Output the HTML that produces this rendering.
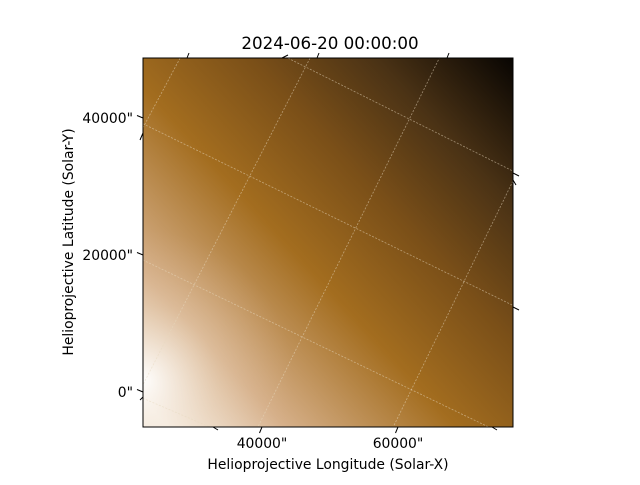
<!DOCTYPE html>
<html><head><meta charset="utf-8"><style>
body{margin:0;background:#fff;}
svg text{font-family:"DejaVu Sans","Liberation Sans",sans-serif;}
</style></head><body>
<svg id="chart" width="640" height="480" viewBox="0 0 640 480">
<defs>
<linearGradient id="lg" gradientUnits="userSpaceOnUse" x1="143" y1="400" x2="513" y2="58">
<stop offset="0" stop-color="#fdf9f4"/>
<stop offset="0.17" stop-color="#d6b08a"/>
<stop offset="0.42" stop-color="#a36d1f"/>
<stop offset="0.62" stop-color="#7a4f18"/>
<stop offset="0.8" stop-color="#4a3215"/>
<stop offset="1" stop-color="#080502"/>
</linearGradient>
<radialGradient id="rg" gradientUnits="userSpaceOnUse" cx="143" cy="380" r="150">
<stop offset="0" stop-color="#ffffff" stop-opacity="0.9"/>
<stop offset="0.5" stop-color="#e8d2b8" stop-opacity="0.35"/>
<stop offset="1" stop-color="#d6b08a" stop-opacity="0"/>
</radialGradient>
<clipPath id="cp"><rect x="143" y="58" width="370" height="369"/></clipPath>
</defs>
<text x="330" y="49" font-size="16.7" text-anchor="middle">2024-06-20 00:00:00</text>
<g clip-path="url(#cp)">
<rect x="143" y="58" width="370" height="369" fill="url(#lg)"/>
<rect x="143" y="58" width="370" height="369" fill="url(#rg)"/>
<g id="grid"></g>
</g>
<rect x="143" y="58" width="370" height="369" fill="none" stroke="#000" stroke-width="1"/>
<g id="ticks"></g>
<text x="328" y="469" font-size="13.9" text-anchor="middle">Helioprojective Longitude (Solar-X)</text>
<text x="73" y="242" font-size="13.9" text-anchor="middle" transform="rotate(-90 73 242)">Helioprojective Latitude (Solar-Y)</text>
</svg>
<script>
const xTickVals=[40000,60000];
const xTickLabels=['40000"','60000"'];
const yTickVals=[0,20000,40000];
const yTickLabels=['0"','20000"','40000"'];
// grid lines in data coords [x1,y1,x2,y2]
const lonLines=[[28200,49200,21700,37100],[47300,49200,21700,-500],[66400,49400,39400,-5100],[76900,30800,59300,-5100]];
const latLines=[[42900,49200,77400,32000],[22000,39400,77400,12400],[22000,19500,73300,-5100],[22000,-700,32300,-5100]];
function X(v){return 262+(v-40000)*136/20000;}
function Y(v){return 392-v*137/20000;}
const NS='http://www.w3.org/2000/svg';
const grid=document.getElementById('grid');
lonLines.concat(latLines).forEach((l,i)=>{
 const ln=document.createElementNS(NS,'line');
 ln.setAttribute('x1',X(l[0]));ln.setAttribute('y1',Y(l[1]));
 ln.setAttribute('x2',X(l[2]));ln.setAttribute('y2',Y(l[3]));
 ln.setAttribute('stroke','#e8d8c0');ln.setAttribute('stroke-opacity','0.55');
 ln.setAttribute('stroke-width','0.8');ln.setAttribute('stroke-dasharray','2,1.5');
 
 
 grid.appendChild(ln);
});
const tk=document.getElementById('ticks');
xTickVals.forEach((v,i)=>{
 const x=X(v);
 const t=document.createElementNS(NS,'line');
 t.setAttribute('x1',x);t.setAttribute('y1',427);t.setAttribute('x2',x-2.5);t.setAttribute('y2',433);
 t.setAttribute('stroke','#000');
 
 
 tk.appendChild(t);
 const tx=document.createElementNS(NS,'text');
 tx.setAttribute('x',x);tx.setAttribute('y',448);tx.setAttribute('font-size','13.9');tx.setAttribute('text-anchor','middle');
 tx.textContent=xTickLabels[i];
 
 
 tk.appendChild(tx);
});
yTickVals.forEach((v,i)=>{
 const y=Y(v);
 const t=document.createElementNS(NS,'line');
 t.setAttribute('x1',143);t.setAttribute('y1',y);t.setAttribute('x2',137);t.setAttribute('y2',y-2.5);
 t.setAttribute('stroke','#000');
 
 
 tk.appendChild(t);
 const tx=document.createElementNS(NS,'text');
 tx.setAttribute('x',133);tx.setAttribute('y',y+5);tx.setAttribute('font-size','13.9');tx.setAttribute('text-anchor','end');
 tx.textContent=yTickLabels[i];
 
 
 tk.appendChild(tx);
});
// edge ticks where grid lines meet frame
[[187,58,189,53],[317,58,319,53],[447,58,449,53],[282,58,288,55],[143,133,140,140],[143,397,140,400],[513,173,519,176],[513,180,516,185],[513,307,519,310],[213,427,218,430],[492,427,497,430]].forEach(p=>{
 const t=document.createElementNS(NS,'line');
 t.setAttribute('x1',p[0]);t.setAttribute('y1',p[1]);t.setAttribute('x2',p[2]);t.setAttribute('y2',p[3]);
 t.setAttribute('stroke','#000');
 
 
 tk.appendChild(t);
});
</script>
</body></html>
